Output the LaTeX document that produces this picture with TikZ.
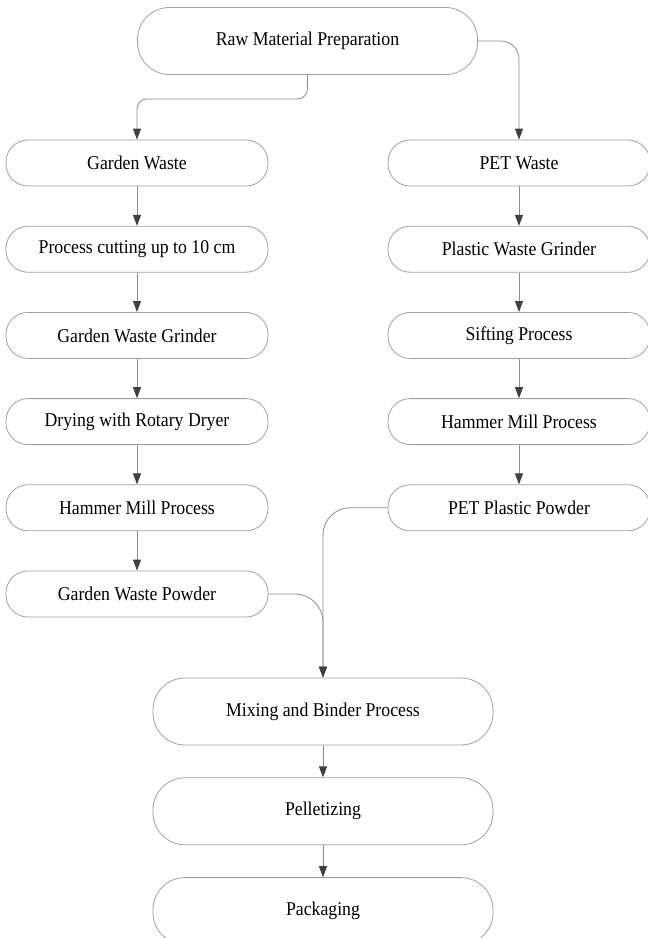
\documentclass[tikz,border=0pt]{standalone}
\usepackage{fontspec}
\setmainfont{Liberation Serif}[FakeStretch=0.91]
\usetikzlibrary{arrows.meta, positioning}

\definecolor{boxline}{RGB}{160,160,160}
\definecolor{conline}{RGB}{140,140,140}
\definecolor{tipgray}{RGB}{64,64,64}

\begin{document}
\begin{tikzpicture}[x=1pt, y=-1pt, node distance=39.4pt,
    proc/.style={draw=boxline, line width=0.8pt, rounded corners=22pt,
      minimum width=262pt, minimum height=46pt, inner sep=0pt,
      font=\fontsize{19.5}{22}\selectfont},
    bigproc/.style={proc, rounded corners=32pt, minimum width=340pt, minimum height=67pt},
    flow/.style={draw=conline, line width=0.8pt,
      -{Triangle[length=11pt, width=8pt, color=tipgray]}}]
          \useasboundingbox (0,0) rectangle (648,938);
          \node[bigproc] (raw) at (307.5,41) {Raw Material Preparation};
          % garden waste line
          \node[proc] (gw) at (137,163) {Garden Waste};
          \node[proc, below=of gw] (cut) {Process cutting up to 10 cm};
          \node[proc, below=of cut] (gwg) {Garden Waste Grinder};
          \node[proc, below=of gwg] (dry) {Drying with Rotary Dryer};
          \node[proc, below=of dry] (ham) {Hammer Mill Process};
          \node[proc, below=of ham] (gwp) {Garden Waste Powder};
          % PET line
          \node[proc] (pet) at (519,163) {PET Waste};
          \node[proc, below=of pet] (pwg) {Plastic Waste Grinder};
          \node[proc, below=of pwg] (sift) {Sifting Process};
          \node[proc, below=of sift] (pham) {Hammer Mill Process};
          \node[proc, below=of pham] (petp) {PET Plastic Powder};
          % end of process
          \node[bigproc] (mix) at (323,711.5) {Mixing and Binder Process};
          \node[bigproc, below=32pt of mix] (pel) {Pelletizing};
          \node[bigproc, below=32pt of pel] (pack) {Packaging};

          \draw[flow, rounded corners=10pt] (raw.south) -- ++(0,24) -| (gw.north);
          \draw[flow, rounded corners=18pt] (raw.east) -| (pet.north);
          \draw[flow] (gw) -- (cut);
          \draw[flow] (cut) -- (gwg);
          \draw[flow] (gwg) -- (dry);
          \draw[flow] (dry) -- (ham);
          \draw[flow] (ham) -- (gwp);
          \draw[flow] (pet) -- (pwg);
          \draw[flow] (pwg) -- (sift);
          \draw[flow] (sift) -- (pham);
          \draw[flow] (pham) -- (petp);
          \draw[flow, rounded corners=27pt] (petp.west) -| (mix.north);
          \draw[flow, rounded corners=28pt] (gwp.east) -| (mix.north);
          \draw[flow] (mix) -- (pel);
          \draw[flow] (pel) -- (pack);
      \end{tikzpicture}
\end{document}
